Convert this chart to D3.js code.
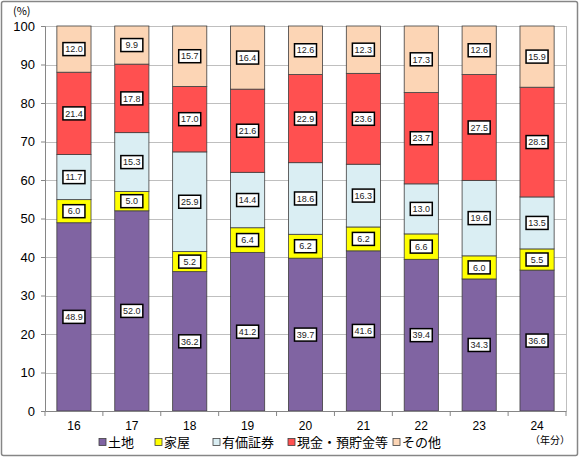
<!DOCTYPE html>
<html><head><meta charset="utf-8">
<script src="https://cdn.jsdelivr.net/npm/d3@7"></script>
<style>body{margin:0;background:#fff}svg{display:block}</style>
</head><body>
<script>
const years = ["16","17","18","19","20","21","22","23","24"];
const seriesNames = ["土地","家屋","有価証券","現金・預貯金等","その他"];
const land = [48.9,52.0,36.2,41.2,39.7,41.6,39.4,34.3,36.6];
const house = [6.0,5.0,5.2,6.4,6.2,6.2,6.6,6.0,5.5];
const securities = [11.7,15.3,25.9,14.4,18.6,16.3,13.0,19.6,13.5];
const cash = [21.4,17.8,17.0,21.6,22.9,23.6,23.7,27.5,28.5];
const other = [12.0,9.9,15.7,16.4,12.6,12.3,17.3,12.6,15.9];
const yTicks = [0,10,20,30,40,50,60,70,80,90,100];
const colors = ["#8064A2","#FFFF00","#DAEEF3","#FF5050","#FCD5B5"];

(function(){
const W=580,H=458;
const svg=d3.select("body").append("svg").attr("width",W).attr("height",H);
svg.append("rect").attr("x",1.5).attr("y",1.5).attr("width",W-4).attr("height",H-4)
  .attr("fill","#fff").attr("stroke","#868686").attr("stroke-width",1.5).attr("rx",2);

const pL=45,pR=566,pT=26,pB=411;
const x=d3.scaleBand().domain(years).range([pL,pR]).paddingInner(0.41).paddingOuter(0.205);
const xb=d3.scaleBand().domain(years).range([pL,pR]);
const y=d3.scaleLinear().domain([0,100]).range([pB,pT]);

svg.append("g").selectAll("line").data(yTicks.filter(d=>d>0)).join("line")
  .attr("x1",pL).attr("x2",pR).attr("y1",d=>Math.round(y(d))+0.5).attr("y2",d=>Math.round(y(d))+0.5)
  .attr("stroke","#BFBFBF").attr("stroke-width",1);
svg.append("line").attr("x1",pR+0.5).attr("x2",pR+0.5).attr("y1",pT).attr("y2",pB).attr("stroke","#BFBFBF");

const stackData = years.map((yr,i)=>{
  const vals=[land[i],house[i],securities[i],cash[i],other[i]];
  const o={year:yr}; seriesNames.forEach((s,j)=>o[s]=vals[j]); return o;});
const stack=d3.stack().keys(seriesNames)(stackData);

const g=svg.append("g");
stack.forEach((layer,j)=>{
  g.append("g").selectAll("rect").data(layer).join("rect")
   .attr("x",d=>x(d.data.year)).attr("width",x.bandwidth())
   .attr("y",d=>y(d[1])).attr("height",d=>y(d[0])-y(d[1]))
   .attr("fill",colors[j]).attr("stroke","#3F3F3F").attr("stroke-width",0.8);
});
const lab=svg.append("g").attr("font-family","Liberation Sans, Arial, sans-serif").attr("font-size",9);
stack.forEach((layer,j)=>{
  layer.forEach(d=>{
    const cx=x(d.data.year)+x.bandwidth()/2, cy=(y(d[0])+y(d[1]))/2;
    const gg=lab.append("g");
    gg.append("rect").attr("x",cx-11).attr("y",cy-6.5).attr("width",22).attr("height",13)
      .attr("fill","#fff").attr("stroke","#000").attr("stroke-width",1.5);
    gg.append("text").attr("x",cx).attr("y",cy+3.2).attr("text-anchor","middle").attr("fill","#222")
      .text(d3.format(".1f")(d[1]-d[0]));
  });
});

const ya=svg.append("g").attr("transform",`translate(${pL},0)`)
  .call(d3.axisLeft(y).tickValues(yTicks).tickSize(4).tickPadding(6));
ya.select(".domain").attr("stroke","#868686");
ya.selectAll(".tick line").attr("stroke","#868686");
ya.selectAll("text").attr("font-family","Liberation Sans, Arial, sans-serif").attr("font-size",13).attr("fill","#000");

const xa=svg.append("g").attr("transform",`translate(0,${pB})`)
  .call(d3.axisBottom(xb).tickSize(0).tickPadding(10));
xa.select(".domain").attr("stroke","#868686");
xa.selectAll("text").attr("font-family","Liberation Sans, Arial, sans-serif").attr("font-size",12).attr("fill","#000");
svg.append("g").selectAll("line").data(d3.range(years.length+1)).join("line")
  .attr("x1",i=>pL+i*xb.step()).attr("x2",i=>pL+i*xb.step())
  .attr("y1",pB).attr("y2",pB+5).attr("stroke","#868686");

svg.append("text").attr("x",13).attr("y",15).attr("font-family","Noto Sans CJK JP").attr("font-size",11).text("(%)");
svg.append("text").attr("x",550).attr("y",444).attr("text-anchor","middle").attr("font-family","Noto Sans CJK JP").attr("font-size",10).text("（年分）");

const legX=[99,155,213,288,393];
const leg=svg.append("g");
seriesNames.forEach((s,j)=>{
  leg.append("rect").attr("x",legX[j]).attr("y",438.5).attr("width",7).attr("height",7)
    .attr("fill",colors[j]).attr("stroke","#3F3F3F").attr("stroke-width",0.8);
  leg.append("text").attr("x",legX[j]+9).attr("y",447).attr("font-family","Noto Sans CJK JP").attr("font-size",13).text(s);
});
})();
</script>
</body></html>
